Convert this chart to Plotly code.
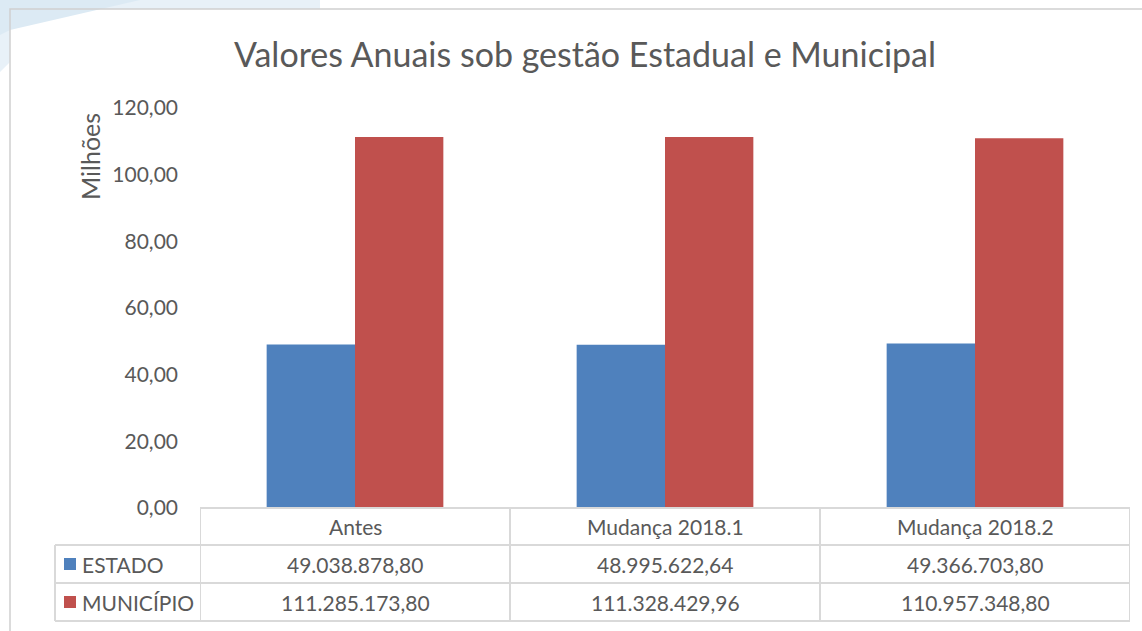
import plotly.graph_objects as go

# ---- data ----
categories = ["Antes", "Mudança 2018.1", "Mudança 2018.2"]
series_names = ["ESTADO", "MUNICÍPIO"]
estado = [49038878.80, 48995622.64, 49366703.80]
municipio = [111285173.80, 111328429.96, 110957348.80]
y_ticks = [0, 20, 40, 60, 80, 100, 120]

colors = ["#4F81BD", "#C0504D"]
text_color = "#595959"
line_color = "#D9D9D9"
FONT = "Lato"

W, H = 1142, 631
L, R, T, B = 200, 12, 108, 123
PW, PH = W - L - R, H - T - B

def px(x):
    return (x - L) / PW

def py(y):
    return (H - B - y) / PH

def fmt_br(v):
    s = f"{v:,.2f}"
    return s.replace(",", "X").replace(".", ",").replace("X", ".")

fig = go.Figure()
for name, vals, col in zip(series_names, [estado, municipio], colors):
    fig.add_trace(go.Bar(
        x=categories, y=[v / 1e6 for v in vals], name=name,
        marker=dict(color=col, line=dict(width=0)),
        showlegend=False,
    ))

shapes = []
annotations = []

# slide background corner
shapes.append(dict(type="path", xref="paper", yref="paper",
                   path=f"M {px(0)},{py(0)} L {px(320)},{py(0)} L {px(320)},{py(9)} L {px(10)},{py(9)} L {px(10)},{py(62)} L {px(0)},{py(72)} Z",
                   fillcolor="#E8F1F8", line=dict(width=0), layer="below"))
shapes.append(dict(type="path", xref="paper", yref="paper",
                   path=f"M {px(0)},{py(0)} L {px(140)},{py(0)} L {px(10)},{py(30)} L {px(0)},{py(35)} Z",
                   fillcolor="#DCEAF4", line=dict(width=0), layer="below"))
# chart frame
shapes.append(dict(type="rect", xref="paper", yref="paper",
                   x0=px(10), x1=px(1170), y0=py(9), y1=py(660),
                   line=dict(color="#D0D0D0", width=1.5), fillcolor="rgba(0,0,0,0)"))

# data table lines
row_y = [508, 545, 583, 621]
lw = 2
shapes.append(dict(type="line", xref="paper", yref="paper", x0=0, x1=1, y0=py(row_y[0]), y1=py(row_y[0]),
                   line=dict(color=line_color, width=lw)))
for yy in row_y[1:]:
    shapes.append(dict(type="line", xref="paper", yref="paper", x0=px(55), x1=1, y0=py(yy), y1=py(yy),
                       line=dict(color=line_color, width=lw)))
for i in range(len(categories) + 1):
    shapes.append(dict(type="line", xref="x", yref="paper", x0=i - 0.5, x1=i - 0.5,
                       y0=py(row_y[0]), y1=py(row_y[-1]), line=dict(color=line_color, width=lw)))
shapes.append(dict(type="line", xref="paper", yref="paper", x0=px(55), x1=px(55),
                   y0=py(row_y[1]), y1=py(row_y[-1]), line=dict(color=line_color, width=lw)))

fs_table = 21
for i, c in enumerate(categories):
    annotations.append(dict(x=i, y=py((row_y[0] + row_y[1]) / 2), xref="x", yref="paper", text=c,
                            xanchor="center", yanchor="middle",
                            showarrow=False, font=dict(family=FONT, size=fs_table, color=text_color)))
for r, (name, vals, col) in enumerate(zip(series_names, [estado, municipio], colors)):
    yc = (row_y[r + 1] + row_y[r + 2]) / 2
    for i, v in enumerate(vals):
        annotations.append(dict(x=i, y=py(yc), xref="x", yref="paper", text=fmt_br(v),
                                xanchor="center", yanchor="middle",
                                showarrow=False, font=dict(family=FONT, size=fs_table, color=text_color)))
    annotations.append(dict(x=px(80), y=py(yc), xref="paper", yref="paper", text=name,
                            xanchor="left", yanchor="middle",
                            showarrow=False, font=dict(family=FONT, size=fs_table, color=text_color)))
    shapes.append(dict(type="rect", xref="paper", yref="paper", x0=px(64), x1=px(76),
                       y0=py(yc - 6), y1=py(yc + 6), fillcolor=col, line=dict(width=0)))

# axis display-unit label
annotations.append(dict(x=px(90), y=py(157), xref="paper", yref="paper", text="Milhões", textangle=-90,
                        xanchor="center", yanchor="middle",
                        showarrow=False, font=dict(family=FONT, size=25, color=text_color)))

fig.update_layout(
    width=W, height=H, autosize=False,
    margin=dict(l=L, r=R, t=T, b=B),
    paper_bgcolor="white", plot_bgcolor="white",
    separators=",.",
    barmode="group", bargap=0.43, bargroupgap=0,
    title=dict(text="Valores Anuais sob gestão Estadual e Municipal", x=585 / W, xanchor="center",
               y=1 - 55 / H, yanchor="middle",
               font=dict(family=FONT, size=34, color=text_color)),
    xaxis=dict(range=[-0.5, 2.5], showticklabels=False, showgrid=False, zeroline=False,
               showline=False, ticks=""),
    yaxis=dict(range=[0, 120], tickvals=y_ticks, tickformat=".2f", showgrid=False, zeroline=False,
               showline=False, ticks="", ticklabelstandoff=21,
               tickfont=dict(family=FONT, size=21, color=text_color)),
    shapes=shapes, annotations=annotations,
)

fig.write_html("out.html")
